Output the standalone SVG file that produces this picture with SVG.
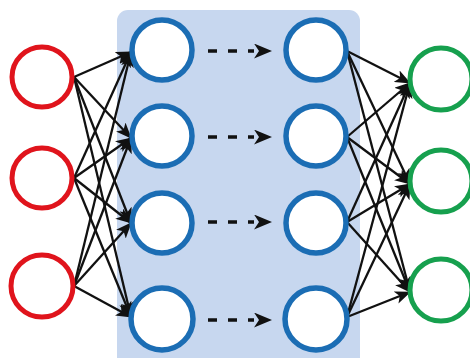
<svg xmlns="http://www.w3.org/2000/svg" width="470" height="358" viewBox="0 0 470 358">
<style>
.red{fill:#fff;stroke:#e0141c;stroke-width:5}
.blue{fill:#fff;stroke:#1b6db4;stroke-width:5.5}
.green{fill:#fff;stroke:#16a04e;stroke-width:5}
.con line{stroke:#111;stroke-width:2.3;marker-end:url(#ah)}
.dash line{stroke:#111;stroke-width:3.5;stroke-dasharray:9 11;marker-end:url(#dh)}
</style>
<defs>
<marker id="ah" markerUnits="userSpaceOnUse" markerWidth="16" markerHeight="13" viewBox="0 0 16 13" refX="15" refY="6.5" orient="auto">
<path d="M0,0 L16,6.5 L0,13 L4,6.5 Z" fill="#111"/>
</marker>
<marker id="dh" markerUnits="userSpaceOnUse" markerWidth="18" markerHeight="15" viewBox="0 0 18 15" refX="0" refY="7.5" orient="auto">
<path d="M0,0 L18,7.5 L0,15 L5,7.5 Z" fill="#111"/>
</marker>
</defs>
<rect id="hidden-box" x="117" y="10" width="243" height="360" rx="11" fill="#c7d7ef"/>
<g id="connectors">
<g class="con">
<line x1="74" y1="77" x2="131" y2="52"/>
<line x1="74" y1="77" x2="131" y2="138"/>
<line x1="74" y1="77" x2="131" y2="223"/>
<line x1="74" y1="77" x2="131" y2="317"/>
<line x1="74" y1="178" x2="131" y2="52"/>
<line x1="74" y1="178" x2="131" y2="138"/>
<line x1="74" y1="178" x2="131" y2="223"/>
<line x1="74" y1="178" x2="131" y2="317"/>
<line x1="74" y1="286" x2="131" y2="52"/>
<line x1="74" y1="286" x2="131" y2="138"/>
<line x1="74" y1="286" x2="131" y2="223"/>
<line x1="74" y1="286" x2="131" y2="317"/>
<line x1="347" y1="51" x2="410" y2="83"/>
<line x1="347" y1="51" x2="410" y2="184"/>
<line x1="347" y1="51" x2="410" y2="292"/>
<line x1="347" y1="137" x2="410" y2="83"/>
<line x1="347" y1="137" x2="410" y2="184"/>
<line x1="347" y1="137" x2="410" y2="292"/>
<line x1="347" y1="222" x2="410" y2="83"/>
<line x1="347" y1="222" x2="410" y2="184"/>
<line x1="347" y1="222" x2="410" y2="292"/>
<line x1="347" y1="317" x2="410" y2="83"/>
<line x1="347" y1="317" x2="410" y2="184"/>
<line x1="347" y1="317" x2="410" y2="292"/>
</g>
<g class="dash">
<line x1="208" y1="51" x2="254" y2="51"/>
<line x1="208" y1="137" x2="254" y2="137"/>
<line x1="208" y1="222" x2="254" y2="222"/>
<line x1="208" y1="320" x2="254" y2="320"/>
</g>
</g>
<g id="in1"><circle class="red" cx="42" cy="77" r="30"/></g>
<g id="in2"><circle class="red" cx="42" cy="178" r="30"/></g>
<g id="in3"><circle class="red" cx="42" cy="286" r="31"/></g>
<g id="h1a"><circle class="blue" cx="162" cy="50" r="30"/></g>
<g id="h1b"><circle class="blue" cx="162" cy="136" r="30"/></g>
<g id="h1c"><circle class="blue" cx="162" cy="223" r="30"/></g>
<g id="h1d"><circle class="blue" cx="162" cy="319" r="31"/></g>
<g id="h2a"><circle class="blue" cx="316" cy="50" r="30"/></g>
<g id="h2b"><circle class="blue" cx="316" cy="136" r="30"/></g>
<g id="h2c"><circle class="blue" cx="316" cy="223" r="30"/></g>
<g id="h2d"><circle class="blue" cx="316" cy="319" r="31"/></g>
<g id="out1"><circle class="green" cx="441" cy="79" r="31"/></g>
<g id="out2"><circle class="green" cx="441" cy="181" r="31"/></g>
<g id="out3"><circle class="green" cx="441" cy="290" r="31"/></g>
</svg>
